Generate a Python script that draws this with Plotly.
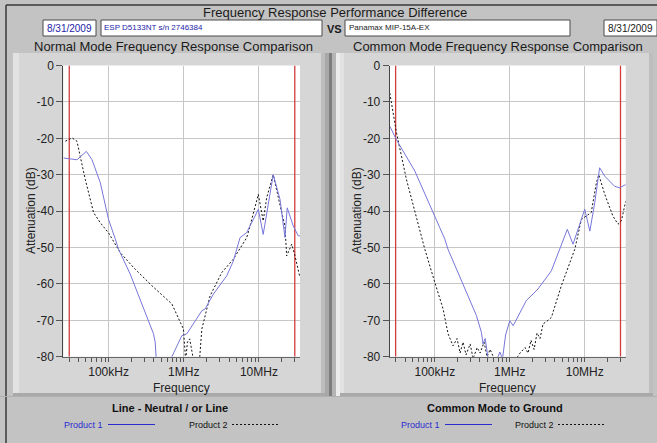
import math
import plotly.graph_objects as go

W, H = 657, 443

# ---------------- data ----------------
nm_p1_freq = [25.2e3, 38e3, 50.6e3, 60.3e3, 77.6e3, 100e3, 123e3, 136e3, 194e3, 264e3, 358e3, 396e3,
              417e3, 430e3, 500e3, 620e3, 695e3, 944e3, 1.10e6, 1.42e6, 1.74e6, 1.92e6, 2.48e6, 3.73e6,
              4.57e6, 5.61e6, 6.88e6, 8.43e6, 9.82e6, 11.4e6, 15.5e6, 19.1e6, 22.2e6, 23.8e6, 28.6e6,
              33.4e6, 35.1e6]
nm_p1_db = [-25.4, -25.9, -23.6, -25.9, -32.2, -42.3, -47.7, -50.5, -57.3, -64.2, -71.5, -73.7,
            -76.0, -80.5, -88, -86, -80, -74.2, -73.7, -70.1, -67.4, -66.9, -62.8, -57.8,
            -53.7, -47.3, -45.9, -42.3, -39.5, -46.4, -30.0, -36.8, -47.2, -39.1, -44.1,
            -46.8, -46.8]

nm_p2_freq = [26.6e3, 32.7e3, 38e3, 49e3, 63.2e3, 77.6e3, 100e3, 143e3, 215e3, 377e3, 695e3, 991e3,
              1.06e6, 1.12e6, 1.2e6, 1.28e6, 1.35e6, 1.5e6, 1.62e6, 1.74e6, 2.05e6, 2.24e6, 3.2e6,
              4.57e6, 6.88e6, 7.62e6, 9.82e6, 11.4e6, 12.7e6, 15.5e6, 20.1e6, 22.2e6, 23.4e6, 27.3e6,
              30.2e6, 35.1e6]
nm_p2_db = [-20.8, -19.9, -20.8, -31.3, -40.4, -43.2, -46.0, -51.4, -55.5, -60.5, -65.5, -72.4,
            -81, -76, -75.1, -78.7, -81, -85, -81, -72.4, -66.9, -63.3, -56.9,
            -53.2, -47.3, -44.1, -35.4, -42.7, -36.3, -30.0, -40.4, -44.1, -52.3, -49.1,
            -52.3, -58.2]

cm_p1_freq = [25.1e3, 30.8e3, 54.1e3, 100e3, 136e3, 150e3, 226e3, 359e3, 418e3, 440e3, 469e3, 514e3,
              600e3, 736e3, 800e3, 880e3, 1.0e6, 1.11e6, 1.66e6, 2.38e6, 3.59e6, 4.88e6, 5.86e6,
              6.98e6, 9.02e6, 10e6, 11.7e6, 13.6e6, 15.8e6, 18.5e6, 25.1e6, 29.3e6, 35.2e6]
cm_p1_db = [-16.7, -20.4, -29.0, -41.4, -47.7, -50.5, -59.2, -68.7, -73.3, -76.5, -75.0, -80.5,
            -84, -78.7, -80.5, -74, -70.1, -71.5, -64.6, -61.4, -56.4, -49.6, -45.0,
            -49.1, -42.3, -39.5, -45.5, -37.7, -28.1, -30.4, -33.2, -33.6, -32.7]

cm_p2_freq = [25.1e3, 30.8e3, 41.8e3, 56.9e3, 73.6e3, 100e3, 129e3, 150e3, 175e3, 198e3, 217e3, 238e3,
              261e3, 296e3, 324e3, 367e3, 402e3, 454e3, 498e3, 546e3, 618e3, 700e3, 900e3, 1.05e6,
              1.18e6, 1.37e6, 1.6e6, 1.75e6, 1.92e6, 2.11e6, 2.31e6, 2.53e6, 2.78e6, 3.24e6, 3.59e6,
              4.88e6, 7.36e6, 9.02e6, 10.5e6, 12.2e6, 14.3e6, 15.4e6, 18.5e6, 23.8e6, 27.8e6, 30.8e6,
              35.2e6]
cm_p2_db = [-7.6, -18.5, -31.3, -41.4, -50.5, -59.6, -66.9, -73.7, -77, -75, -79, -76,
            -79.5, -76.5, -80.5, -77.5, -79, -76, -80, -78, -80.5, -84, -85, -83,
            -81, -79, -77.5, -79, -75.5, -78, -73.5, -75, -71, -70, -69.2,
            -60.5, -50.5, -42.3, -41.4, -40.4, -32.2, -30, -35.4, -41.4, -43.6, -42.7,
            -37.3]

limit_freq = [3e4, 3e7]
db_range = [-80, 0]
freq_range = [2.5e4, 3.52e7]

y_tick_vals = [0, -10, -20, -30, -40, -50, -60, -70, -80]
y_tick_labels = ["0", "-10", "-20", "-30", "-40", "-50", "-60", "-70", "-80"]
x_tick_vals = [1e5, 1e6, 1e7]
x_tick_labels = ["100kHz", "1MHz", "10MHz"]
x_minor_vals = [m * 10 ** e for e in (4, 5, 6, 7) for m in range(2, 10) if 2.5e4 <= m * 10 ** e <= 3.52e7]

header_title = "Frequency Response Performance Difference"
date_left = "8/31/2009"
date_right = "8/31/2009"
product1_name = "ESP D5133NT s/n 2746384"
product2_name = "Panamax MIP-15A-EX"
panel_titles = ["Normal Mode Frequency Response Comparison", "Common Mode Frequency Response Comparison"]
legend_titles = ["Line - Neutral / or Line", "Common Mode to Ground"]

# ---------------- styling ----------------
FONT = "Liberation Sans, Arial, sans-serif"
BLUE = "#7676da"
BLUE_TXT = "#2b2bd0"
BLACK = "#111111"
RED = "#d23c3c"


def px(x):
    return x / W


def py(y):
    return 1 - y / H


fig = go.Figure()

panels = [
    dict(data=[(nm_p1_freq, nm_p1_db), (nm_p2_freq, nm_p2_db)], xa="x", ya="y"),
    dict(data=[(cm_p1_freq, cm_p1_db), (cm_p2_freq, cm_p2_db)], xa="x2", ya="y2"),
]

for p in panels:
    for f in limit_freq:
        fig.add_trace(go.Scatter(x=[f, f], y=db_range, mode="lines", line=dict(color=RED, width=1.3),
                                 xaxis=p["xa"], yaxis=p["ya"], showlegend=False, hoverinfo="skip"))
    (f1, d1), (f2, d2) = p["data"]
    fig.add_trace(go.Scatter(x=f2, y=d2, mode="lines", line=dict(color=BLACK, width=1, dash="2px,2px"),
                             xaxis=p["xa"], yaxis=p["ya"], showlegend=False))
    fig.add_trace(go.Scatter(x=f1, y=d1, mode="lines", line=dict(color=BLUE, width=1),
                             xaxis=p["xa"], yaxis=p["ya"], showlegend=False))

plot_x = [(63.3, 300.0), (389.7, 625.7)]
plot_y = (65.5, 356.7)


def xaxis(dom):
    return dict(type="log", range=[math.log10(freq_range[0]), math.log10(freq_range[1])],
                domain=[px(dom[0]), px(dom[1])], tickvals=x_tick_vals, ticktext=x_tick_labels,
                ticks="outside", ticklen=4, tickcolor="#555", tickwidth=1,
                showgrid=True, gridcolor="#c6c6c6", gridwidth=1,
                showline=True, linecolor="#666", linewidth=1, zeroline=False, automargin=False,
                tickfont=dict(family=FONT, size=12, color="#222"),
                minor=dict(tickvals=x_minor_vals, ticks="outside", ticklen=4, tickcolor="#555",
                           showgrid=False),
                fixedrange=True)


def yaxis(anchor):
    return dict(range=db_range, domain=[py(plot_y[1]), py(plot_y[0])], tickvals=y_tick_vals,
                ticktext=y_tick_labels, ticks="outside", ticklen=6, tickcolor="#555",
                showgrid=True, gridcolor="#c6c6c6", showline=True, linecolor="#444", linewidth=1,
                zeroline=False, automargin=False, tickfont=dict(family=FONT, size=12, color="#222"),
                anchor=anchor, fixedrange=True)


shapes = []
annotations = []


def rect(x0, y0, x1, y1, fill, line=None, lw=0, layer="below"):
    shapes.append(dict(type="rect", xref="paper", yref="paper", x0=px(x0), x1=px(x1), y0=py(y1), y1=py(y0),
                       fillcolor=fill, line=dict(color=line or fill, width=lw), layer=layer))


def hline(x0, x1, y, color, width=1, dash="solid"):
    shapes.append(dict(type="line", xref="paper", yref="paper", x0=px(x0), x1=px(x1), y0=py(y), y1=py(y),
                       line=dict(color=color, width=width, dash=dash), layer="above"))


def vline(x, y0, y1, color, width=1):
    shapes.append(dict(type="line", xref="paper", yref="paper", x0=px(x), x1=px(x), y0=py(y0), y1=py(y1),
                       line=dict(color=color, width=width), layer="below"))


def text(t, x, y, size=12, color="#222", bold=False, angle=0, xanchor="center", family=FONT):
    annotations.append(dict(text=f"<b>{t}</b>" if bold else t, x=px(x), y=py(y), xref="paper", yref="paper",
                            showarrow=False, xanchor=xanchor, yanchor="middle", textangle=angle,
                            borderpad=0, font=dict(family=family, size=size, color=color)))


# window frame
vline(6, 5, 443, "#3a3a3a", 1.5)
hline(6, 657, 5, "#3a3a3a", 1.5)

# panels with bevel
for (x0, x1) in [(13, 325), (338, 653)]:
    rect(x0, 53, x1, 395, "#d6d6d6")
    rect(x0, 53, x0 + 6, 395, "#e2e2e2")
    rect(x1 - 4, 53, x1, 395, "#bdbdbd")
    rect(x0, 393, x1, 396, "#a9a9a9")
# separator between panels
rect(325, 53, 329, 396, "#a8a8a8")
rect(329, 53, 332, 396, "#7d7d7d")
rect(332, 53, 336, 396, "#b4b4b4")
rect(336, 53, 340, 396, "#ececec")
rect(0, 396, 657, 397, "#b0b0b0")

for (x0, x1) in plot_x:
    rect(x0, plot_y[0], x1, plot_y[1], "white")

# header
text(header_title, 335, 12.5, size=13, color="#1a1a1a")
for (x0, x1) in [(43, 96), (101, 322), (345, 570), (604, 657)]:
    rect(x0, 20, x1, 36, "white", "#4a4a4a", 1)
text(date_left, 46, 28.5, size=10, color="#2323a8", xanchor="left")
text(product1_name, 103, 27.5, size=8, color="#2323a8", xanchor="left")
text("VS", 334.5, 28.5, size=11, color="#1a1a1a", bold=True)
text(product2_name, 348, 27.5, size=8, color="#1a1a1a", xanchor="left")
text(date_right, 607, 28.5, size=10, color="#1a1a1a", xanchor="left")

# panel titles, axis titles, legends
centers = [(plot_x[0][0] + plot_x[0][1]) / 2, (plot_x[1][0] + plot_x[1][1]) / 2]
title_cx = [173, 498]
axis_title_x = [31, 357]
leg = [dict(c=170, p1=83, l1=(108, 155), p2=208, l2=(232, 278)),
       dict(c=495, p1=420, l1=(445, 492), p2=534, l2=(558, 605))]
for i in range(2):
    text(panel_titles[i], title_cx[i], 47, size=13, color="#1a1a1a")
    text("Frequency", centers[i], 387.5, size=12, color="#222")
    text("Attenuation (dB)", axis_title_x[i], 211, size=12, color="#222", angle=-90)
    text(legend_titles[i], leg[i]["c"], 408, size=11, color="#111", bold=True)
    text("Product 1", leg[i]["p1"], 424.5, size=9, color=BLUE_TXT)
    hline(leg[i]["l1"][0], leg[i]["l1"][1], 424.5, "#2b2bd0", 1)
    text("Product 2", leg[i]["p2"], 424.5, size=9, color="#111")
    hline(leg[i]["l2"][0], leg[i]["l2"][1], 424.5, "#111", 1, "2px,2px")

fig.update_layout(
    template="none",
    width=W, height=H, margin=dict(l=0, r=0, t=0, b=0, pad=0), autosize=False,
    paper_bgcolor="#c3c3c3", plot_bgcolor="white",
    xaxis=dict(xaxis(plot_x[0]), anchor="y"),
    yaxis=yaxis("x"),
    xaxis2=dict(xaxis(plot_x[1]), anchor="y2"),
    yaxis2=yaxis("x2"),
    shapes=shapes, annotations=annotations,
    showlegend=False, font=dict(family=FONT),
)

fig.write_html("out.html", config=dict(displayModeBar=False))
